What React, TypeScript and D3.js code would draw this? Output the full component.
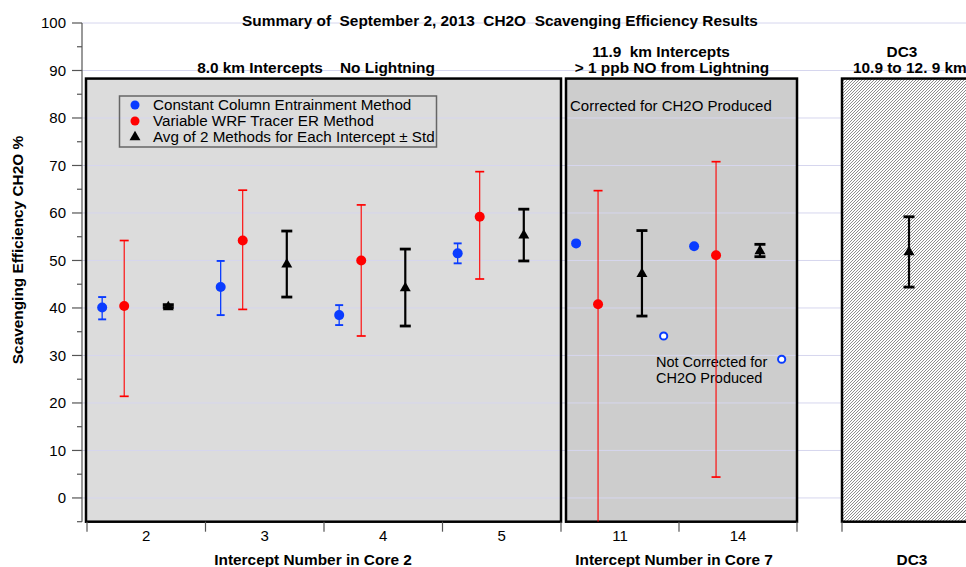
import React from "react";
import * as d3 from "d3";

// Intercept categories
const core2Cats = ["2", "3", "4", "5"];
const core7Cats = ["11", "14"];
const dc3Cats = ["DC3"];

// Constant Column Entrainment Method (blue)
const ccemCore2 = [40.1, 44.4, 38.5, 51.5];
const ccemCore2Lo = [37.6, 38.5, 36.4, 49.4];
const ccemCore2Hi = [42.3, 49.9, 40.6, 53.6];
const ccemCore7 = [53.6, 53.0];
// Not corrected for CH2O produced (open blue circles)
const ccemCore7Uncorrected = [34.1, 29.2];

// Variable WRF Tracer ER Method (red)
const wrfCore2 = [40.4, 54.2, 50.0, 59.2];
const wrfCore2Lo = [21.4, 39.7, 34.1, 46.1];
const wrfCore2Hi = [54.2, 64.8, 61.7, 68.7];
const wrfCore7 = [40.8, 51.1];
const wrfCore7Lo = [-5, 4.4];
const wrfCore7Hi = [64.7, 70.8];

// Average of the two methods ± std (black)
const avgCore2 = [40.4, 49.4, 44.4, 55.5];
const avgCore2Lo = [40.1, 42.3, 36.2, 49.9];
const avgCore2Hi = [40.7, 56.2, 52.4, 60.8];
const avgCore7 = [47.4, 52.2];
const avgCore7Lo = [38.3, 50.8];
const avgCore7Hi = [56.3, 53.4];
const avgDc3 = [52.0];
const avgDc3Lo = [44.4];
const avgDc3Hi = [59.2];

const yTicks = [0, 10, 20, 30, 40, 50, 60, 70, 80, 90, 100];
const yMinorTicks = [-5, 5, 15, 25, 35, 45, 55, 65, 75, 85, 95];

const W = 966;
const H = 567;
const FONT = "'Liberation Sans', Arial, Helvetica, sans-serif";
const BLUE = "#0a3cff";
const RED = "#ff0000";
const AXIS = "#555";
const GRID = "#d6d6ee";
const BOLD_SIZE = 15.4;

const panelTopValue = 88.3;

export default function App() {
  const y = d3.scaleLinear().domain([-5, 100]).range([521.7, 23]);
  const x2 = d3.scaleBand<string>().domain(core2Cats).range([87, 561]);
  const x7 = d3.scaleBand<string>().domain(core7Cats).range([561, 797]);
  const xD = d3.scaleBand<string>().domain(dc3Cats).range([842, 976]);

  const tri = d3.symbol().type(d3.symbolTriangle).size(52)();
  const yBottom = y(-5);
  const yPanelTop = y(panelTopValue);

  const center = (s: d3.ScaleBand<string>, c: string) => (s(c) as number) + s.bandwidth() / 2;

  const errBar = (key: string, cx: number, lo: number, hi: number, color: string, sw: number, capW: number) => {
    const yl = y(Math.max(lo, -5));
    const yh = y(hi);
    return (
      <g key={key} stroke={color} strokeWidth={sw} fill="none">
        <line x1={cx} x2={cx} y1={yl} y2={yh} />
        <line x1={cx - capW / 2} x2={cx + capW / 2} y1={yh} y2={yh} strokeWidth={sw + 0.6} />
        {lo > -5 && <line x1={cx - capW / 2} x2={cx + capW / 2} y1={yl} y2={yl} strokeWidth={sw + 0.6} />}
      </g>
    );
  };

  const marks: React.ReactNode[] = [];

  // Core 2
  core2Cats.forEach((c, i) => {
    const cx = center(x2, c);
    const bw = x2.bandwidth();
    const bx = cx - 0.372 * bw;
    const rx = cx - 0.186 * bw;
    const kx = cx + 0.186 * bw;
    marks.push(errBar(`b2e${i}`, bx, ccemCore2Lo[i], ccemCore2Hi[i], BLUE, 1.3, 8));
    marks.push(<circle key={`b2${i}`} cx={bx} cy={y(ccemCore2[i])} r={5} fill={BLUE} />);
    marks.push(errBar(`r2e${i}`, rx, wrfCore2Lo[i], wrfCore2Hi[i], RED, 1.1, 9));
    marks.push(<circle key={`r2${i}`} cx={rx} cy={y(wrfCore2[i])} r={5} fill={RED} />);
    marks.push(errBar(`k2e${i}`, kx, avgCore2Lo[i], avgCore2Hi[i], "#000", 2.2, 11));
    marks.push(<path key={`k2${i}`} d={tri!} transform={`translate(${kx},${y(avgCore2[i]) + 1})`} fill="#000" />);
  });

  // Core 7
  core7Cats.forEach((c, i) => {
    const cx = center(x7, c);
    const bw = x7.bandwidth();
    const bx = cx - 0.372 * bw;
    const rx = cx - 0.186 * bw;
    const kx = cx + 0.186 * bw;
    const ox = cx + 0.37 * bw;
    marks.push(errBar(`r7e${i}`, rx, wrfCore7Lo[i], wrfCore7Hi[i], RED, 1.1, 9));
    marks.push(<circle key={`b7${i}`} cx={bx} cy={y(ccemCore7[i])} r={5} fill={BLUE} />);
    marks.push(<circle key={`r7${i}`} cx={rx} cy={y(wrfCore7[i])} r={5} fill={RED} />);
    marks.push(errBar(`k7e${i}`, kx, avgCore7Lo[i], avgCore7Hi[i], "#000", 2.2, 11));
    marks.push(<path key={`k7${i}`} d={tri!} transform={`translate(${kx},${y(avgCore7[i]) + 1})`} fill="#000" />);
    marks.push(
      <circle key={`o7${i}`} cx={ox} cy={y(ccemCore7Uncorrected[i])} r={3.6} fill="#fff" stroke={BLUE} strokeWidth={2} />
    );
  });

  // DC3
  dc3Cats.forEach((c, i) => {
    const cx = center(xD, c);
    marks.push(errBar(`kde${i}`, cx, avgDc3Lo[i], avgDc3Hi[i], "#000", 2.2, 11));
    marks.push(<path key={`kd${i}`} d={tri!} transform={`translate(${cx},${y(avgDc3[i]) + 1})`} fill="#000" />);
  });

  const xTicks = [...x2.domain().map((d) => x2(d) as number), 561, ...x7.domain().slice(1).map((d) => x7(d) as number), 797, 842];

  return (
    <svg
      width={W}
      height={H}
      style={{ position: "absolute", left: 0, top: 0, background: "#fff" }}
      fontFamily={FONT}
    >
      <defs>
        <pattern id="hatch" patternUnits="userSpaceOnUse" width={3} height={3}>
          <rect width={3} height={3} fill="#fff" />
          <path d="M-1,1 L1,-1 M0,3 L3,0 M2,4 L4,2" stroke="#6a6a6a" strokeWidth={0.75} />
        </pattern>
        <clipPath id="plotClip">
          <rect x={0} y={0} width={W} height={yBottom} />
        </clipPath>
      </defs>

      {/* panels */}
      <rect x={86} y={yPanelTop} width={561 - 86} height={yBottom - yPanelTop} fill="#dcdcdc" />
      <rect x={566} y={yPanelTop} width={797 - 566} height={yBottom - yPanelTop} fill="#cdcdcd" />

      {/* gridlines */}
      {yTicks.map((t) => (
        <line key={`g${t}`} x1={82} x2={W} y1={y(t)} y2={y(t)} stroke={GRID} strokeWidth={1} />
      ))}

      <rect x={842} y={yPanelTop} width={W - 842 + 10} height={yBottom - yPanelTop} fill="url(#hatch)" />

      {/* panel borders */}
      <rect x={86} y={yPanelTop} width={561 - 86} height={yBottom - yPanelTop} fill="none" stroke="#000" strokeWidth={2.5} />
      <rect x={566} y={yPanelTop} width={797 - 566} height={yBottom - yPanelTop} fill="none" stroke="#000" strokeWidth={2.5} />
      <rect x={842} y={yPanelTop} width={W - 842 + 10} height={yBottom - yPanelTop} fill="none" stroke="#000" strokeWidth={2.5} />

      {/* y axis */}
      <line x1={82} x2={82} y1={y(100)} y2={yBottom} stroke={AXIS} strokeWidth={1.2} />
      {yTicks.map((t) => (
        <g key={`yt${t}`}>
          <line x1={72} x2={82} y1={y(t)} y2={y(t)} stroke={AXIS} strokeWidth={1.2} />
          <text x={66} y={y(t)} dy="0.35em" textAnchor="end" fontSize={15} fill="#000">
            {t}
          </text>
        </g>
      ))}
      {yMinorTicks.map((t) => (
        <line key={`ym${t}`} x1={77} x2={82} y1={y(t)} y2={y(t)} stroke={AXIS} strokeWidth={1.2} />
      ))}
      <text
        transform={`translate(23,${250}) rotate(-90)`}
        textAnchor="middle"
        fontSize={BOLD_SIZE}
        fontWeight="bold"
      >
        Scavenging Efficiency CH2O %
      </text>

      {/* x axis ticks and labels */}
      {xTicks.map((t, i) => (
        <line key={`xt${i}`} x1={t} x2={t} y1={yBottom} y2={yBottom + 10} stroke={AXIS} strokeWidth={1.2} />
      ))}
      {core2Cats.map((c) => (
        <text key={`xl${c}`} x={center(x2, c)} y={541} textAnchor="middle" fontSize={15}>
          {c}
        </text>
      ))}
      {core7Cats.map((c) => (
        <text key={`xl${c}`} x={center(x7, c)} y={541} textAnchor="middle" fontSize={15}>
          {c}
        </text>
      ))}
      <text x={313} y={565} textAnchor="middle" fontSize={BOLD_SIZE} fontWeight="bold">
        Intercept Number in Core 2
      </text>
      <text x={674} y={565} textAnchor="middle" fontSize={BOLD_SIZE} fontWeight="bold">
        Intercept Number in Core 7
      </text>
      <text x={912} y={565} textAnchor="middle" fontSize={BOLD_SIZE} fontWeight="bold">
        DC3
      </text>

      {/* titles */}
      <text x={500} y={26} textAnchor="middle" fontSize={BOLD_SIZE} fontWeight="bold" style={{ whiteSpace: "pre" }}>
        {"Summary of  September 2, 2013  CH2O  Scavenging Efficiency Results"}
      </text>
      <text x={316} y={73} textAnchor="middle" fontSize={BOLD_SIZE} fontWeight="bold" style={{ whiteSpace: "pre" }}>
        {"8.0 km Intercepts    No Lightning"}
      </text>
      <text x={661} y={57} textAnchor="middle" fontSize={BOLD_SIZE} fontWeight="bold" style={{ whiteSpace: "pre" }}>
        {"11.9  km Intercepts"}
      </text>
      <text x={672} y={73} textAnchor="middle" fontSize={BOLD_SIZE} fontWeight="bold">
        {"> 1 ppb NO from Lightning"}
      </text>
      <text x={902} y={57} textAnchor="middle" fontSize={BOLD_SIZE} fontWeight="bold">
        DC3
      </text>
      <text x={853} y={73} textAnchor="start" fontSize={BOLD_SIZE} fontWeight="bold">
        10.9 to 12. 9 km
      </text>

      {/* annotations */}
      <text x={570} y={111} fontSize={15}>
        Corrected for CH2O Produced
      </text>
      <text x={656} y={367} fontSize={14.5}>
        Not Corrected for
      </text>
      <text x={656} y={383} fontSize={14.5}>
        CH2O Produced
      </text>

      {/* legend */}
      <rect x={119.5} y={96} width={317} height={51} fill="none" stroke="#666" strokeWidth={1.5} />
      <circle cx={135} cy={105} r={4.5} fill={BLUE} />
      <circle cx={135} cy={121} r={4.5} fill={RED} />
      <path d={tri!} transform="translate(135,137)" fill="#000" />
      <text x={153} y={105} dy="0.35em" fontSize={15.2}>
        Constant Column Entrainment Method
      </text>
      <text x={153} y={121} dy="0.35em" fontSize={15.2}>
        Variable WRF Tracer ER Method
      </text>
      <text x={153} y={136.5} dy="0.35em" fontSize={15.2}>
        Avg of 2 Methods for Each Intercept ± Std
      </text>

      {/* data */}
      <g clipPath="url(#plotClip)">{marks}</g>
    </svg>
  );
}
